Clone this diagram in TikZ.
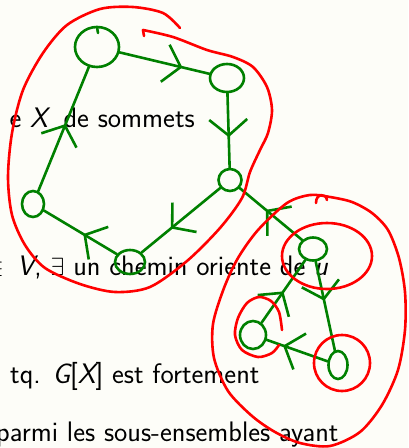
\documentclass[tikz,border=0pt]{standalone}
\usepackage{fontspec}
\usetikzlibrary{shapes.geometric,decorations.markings,arrows.meta}
\definecolor{bgc}{RGB}{253,253,248}
\definecolor{pengreen}{RGB}{0,128,0}
\definecolor{penred}{RGB}{255,0,0}
\begin{document}
\begin{tikzpicture}[x=1pt,y=-1pt,
  vtx/.style={ellipse, draw=pengreen, line width=2.6pt, inner sep=0pt},
  edge/.style={draw=pengreen, line width=2.6pt, line cap=round},
  midarrow/.style={postaction={decorate}, decoration={markings, mark=at position #1 with {\arrow[pengreen, line width=2.6pt]{Straight Barb[length=16pt,width=38pt]}}}},
  redpen/.style={draw=penred, line width=2.6pt, line cap=round, line join=round},
  slide/.style={font=\sffamily\fontsize{28.2}{32}\selectfont, inner sep=0pt, text=black}
]
\useasboundingbox (0,0) rectangle (408,448);
\clip (0,0) rectangle (408,448);
\fill[bgc] (0,0) rectangle (408,448);

% slide text
\node[slide, anchor=base east] (t1) at (195,127) {e {\itshape X}\hspace{7pt} de sommets};
\node[slide, anchor=base east] (t2) at (328,275) {$\in$\hspace{4pt} {\itshape V}, $\exists$ un chemin oriente de {\itshape u}};
\node[slide, anchor=base west] (t3) at (10,383) {tq. {\itshape G}[{\itshape X}] est fortement};
\node[slide, anchor=base west] (t4) at (-4,441) {parmi les sous-ensembles ayant};

% green vertices
\node[vtx, minimum width=44pt, minimum height=40pt] (A) at (97,47) {};
\node[vtx, minimum width=34pt, minimum height=28pt] (B) at (227,78) {};
\node[vtx, minimum width=23pt, minimum height=22pt] (C) at (230,180) {};
\node[vtx, minimum width=30pt, minimum height=24pt] (D) at (130,262) {};
\node[vtx, minimum width=22pt, minimum height=26pt] (E) at (33,204) {};
\node[vtx, minimum width=28pt, minimum height=23pt] (F) at (313,249) {};
\node[vtx, minimum width=26pt, minimum height=28pt] (G) at (253,335) {};
\node[vtx, minimum width=19pt, minimum height=28pt] (H) at (338,365) {};

% green edges
\draw[edge, midarrow=0.7] (A) -- (B);
\draw[edge, midarrow=0.59] (B) -- (C);
\draw[edge, midarrow=0.63] (C) -- (D);
\draw[edge, midarrow=0.46] (D) -- (E);
\draw[edge, midarrow=0.54] (E) -- (A);
\draw[edge, midarrow=0.58] (F) -- (C);
\draw[edge, midarrow=0.44] (F) -- (H);
\draw[edge, midarrow=0.73] (H) -- (G);
\draw[edge, midarrow=0.5] (G) -- (F);
\draw[edge] (97,27) -- (98,33);

% red outlines
\draw[redpen] plot[smooth] coordinates {(180,28) (163,13) (133,7) (100,9) (67,25) (43,53) (23,90) (12,133) (8,177) (12,215) (25,245) (45,268) (80,284) (115,292) (150,287) (187,261) (220,228) (242,198) (250,172) (260,150) (268,133) (272,110) (267,87) (253,67) (233,57) (207,50) (173,37) (143,30)};
\draw[redpen] (143,30) -- (144,36);
\draw[redpen] plot[smooth cycle] coordinates {(287,203) (310,195) (330,197) (352,202) (372,213) (388,230) (399,258) (405,292) (405,330) (398,370) (382,405) (360,432) (330,446) (300,443) (275,432) (252,416) (228,391) (214,358) (213,324) (224,288) (238,258) (258,230)};
\draw[redpen] (316,203) .. controls (316,193) and (326,193) .. (327,200);
\draw[redpen] (327,256) ellipse [x radius=45pt, y radius=33pt];
\draw[redpen] (342,363) ellipse [x radius=28pt, y radius=28pt];
\draw[redpen] plot[smooth] coordinates {(282,330) (279,312) (271,301) (259,297) (247,303) (238,318) (235,335) (242,350) (258,357) (272,353) (279,345)};
\end{tikzpicture}
\end{document}
